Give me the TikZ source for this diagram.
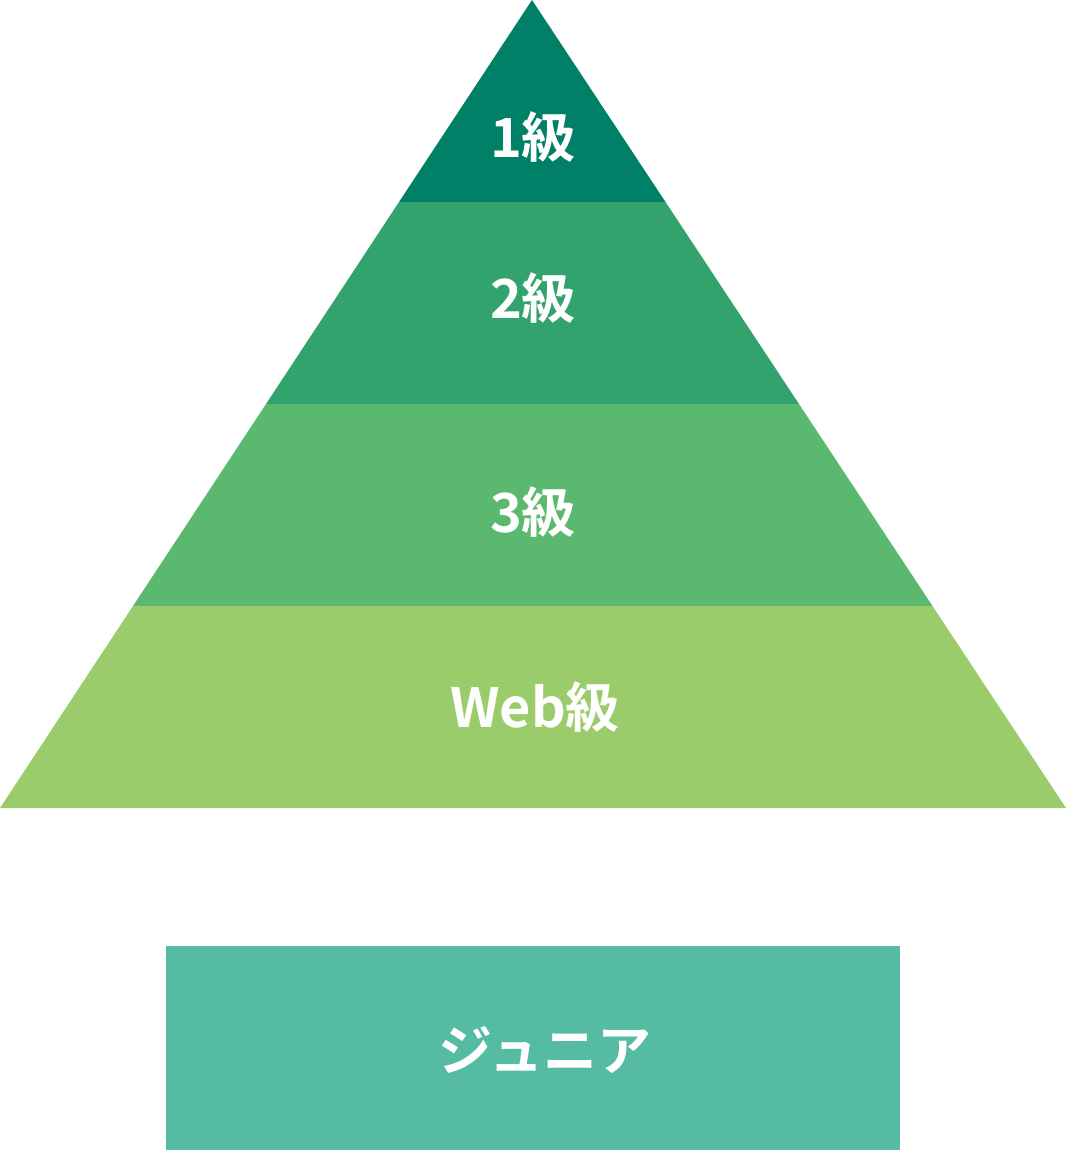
\documentclass[tikz,border=0pt]{standalone}
\usepackage{fontspec}
\newfontfamily\jp{Noto Sans CJK JP Bold}
\definecolor{c1}{HTML}{008066}
\definecolor{c2}{HTML}{33A36E}
\definecolor{c3}{HTML}{5BB96F}
\definecolor{c4}{HTML}{9ACC6B}
\definecolor{c5}{HTML}{56BBA3}
\begin{document}
\begin{tikzpicture}[x=1pt,y=-1pt,lbl/.style={text=white,font=\jp\fontsize{54}{60}\selectfont,inner sep=0}]
\useasboundingbox (0,0) rectangle (1066,1151);
\fill[c1] (532,0) -- (665.5,202) -- (399,202) -- cycle;
\fill[c2] (399,202) -- (665.5,202) -- (799,404) -- (266,404) -- cycle;
\fill[c3] (266,404) -- (799,404) -- (932.5,606) -- (133,606) -- cycle;
\fill[c4] (133,606) -- (932.5,606) -- (1066,808) -- (0,808) -- cycle;
\fill[c5] (166,946) rectangle (900,1150);
\node[lbl] (l1) at (533,137) {1級};
\node[lbl] (l2) at (533,298) {2級};
\node[lbl] (l3) at (533,512) {3級};
\node[lbl] (l4) at (535,707) {Web級};
\node[lbl] (l5) at (545,1050) {ジュニア};
\end{tikzpicture}
\end{document}
